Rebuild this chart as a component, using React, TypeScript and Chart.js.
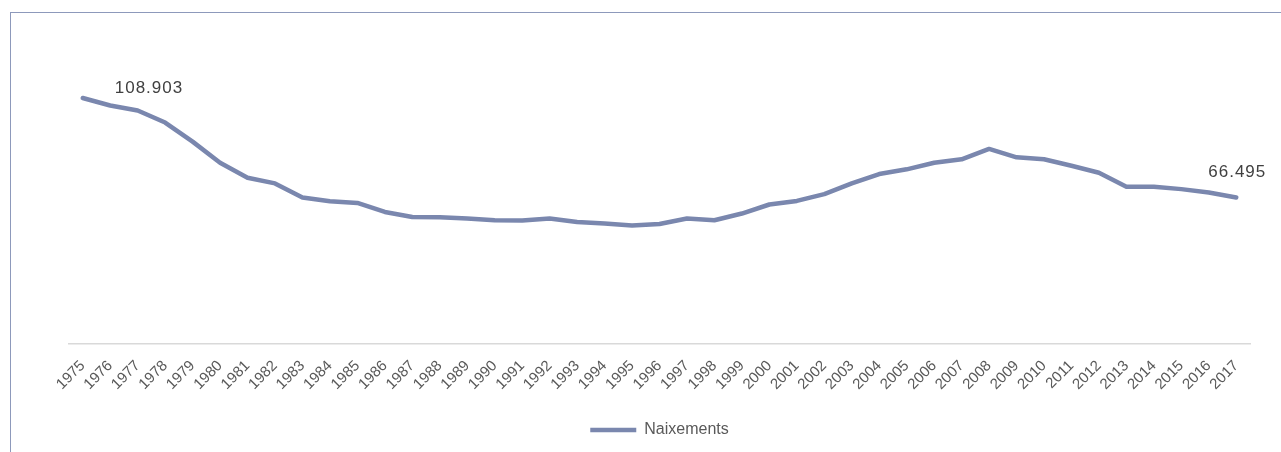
import React, { useEffect, useRef } from "react";
import { Chart, registerables } from "chart.js";

Chart.register(...registerables);

const years: string[] = [
  "1975", "1976", "1977", "1978", "1979", "1980", "1981", "1982", "1983", "1984",
  "1985", "1986", "1987", "1988", "1989", "1990", "1991", "1992", "1993", "1994",
  "1995", "1996", "1997", "1998", "1999", "2000", "2001", "2002", "2003", "2004",
  "2005", "2006", "2007", "2008", "2009", "2010", "2011", "2012", "2013", "2014",
  "2015", "2016", "2017",
];

const naixements: number[] = [
  108903, 105730, 103590, 98450, 90310, 81310, 74890, 72490, 66490, 64900,
  64180, 60320, 58180, 58100, 57490, 56770, 56700, 57490, 56040, 55350,
  54500, 55180, 57490, 56770, 59640, 63490, 65030, 67900, 72490, 76470,
  78490, 81310, 82770, 87180, 83630, 82770, 80030, 77030, 71030, 71030,
  70050, 68630, 66495,
];

const seriesName = "Naixements";
const FONT = "'Liberation Sans', Arial, sans-serif";

function formatCa(v: number): string {
  return String(Math.round(v)).replace(/\B(?=(\d{3})+(?!\d))/g, ".");
}

const endLabels = {
  id: "endLabels",
  afterDatasetsDraw(chart: any) {
    const meta = chart.getDatasetMeta(0);
    const pts = meta.data;
    if (!pts || !pts.length) return;
    const ctx = chart.ctx;
    ctx.save();
    ctx.font = `17px ${FONT}`;
    ctx.fillStyle = "#404040";
    try { (ctx as any).letterSpacing = "1px"; } catch (e) {}
    ctx.textBaseline = "alphabetic";
    const first = pts[0];
    ctx.textAlign = "left";
    ctx.fillText(formatCa(naixements[0]), first.x + 32, first.y - 5);
    const last = pts[pts.length - 1];
    ctx.textAlign = "center";
    ctx.fillText(formatCa(naixements[naixements.length - 1]), last.x + 1, last.y - 20);
    ctx.restore();
  },
};

export default function App() {
  const ref = useRef<HTMLCanvasElement | null>(null);

  useEffect(() => {
    if (!ref.current) return;
    const chart = new Chart(ref.current, {
      type: "line",
      data: {
        labels: years,
        datasets: [
          {
            label: seriesName,
            data: naixements,
            borderColor: "#7a87ae",
            backgroundColor: "#7a87ae",
            borderWidth: 4.5,
            borderCapStyle: "round",
            borderJoinStyle: "round",
            pointRadius: 0,
            pointHoverRadius: 0,
            tension: 0,
            fill: false,
          },
        ],
      },
      options: {
        animation: false,
        responsive: false,
        devicePixelRatio: 1,
        layout: { padding: { left: 69, right: 31, top: 72, bottom: 4 } },
        plugins: {
          legend: {
            display: true,
            position: "bottom",
            labels: {
              usePointStyle: true,
              pointStyle: "line",
              pointStyleWidth: 46,
              padding: 5,
              color: "#595959",
              font: { family: FONT, size: 16 },
            },
          },
          tooltip: { enabled: false },
        },
        scales: {
          x: {
            type: "category",
            offset: true,
            grid: { display: false, drawTicks: false },
            border: { display: true, color: "#d9d9d9", width: 1.5 },
            ticks: {
              autoSkip: false,
              minRotation: 45,
              maxRotation: 45,
              padding: 13,
              color: "#595959",
              font: { family: FONT, size: 15 },
            },
            afterFit: (scale: any) => {
              scale.height = 73;
            },
          },
          y: {
            display: false,
            min: 4000,
            max: 120000,
          },
        },
      },
      plugins: [endLabels],
    });
    return () => chart.destroy();
  }, []);

  return (
    <>
      <div
        style={{
          position: "absolute",
          left: 10,
          top: 12,
          width: 1271,
          height: 440,
          borderTop: "1px solid #8d99bb",
          borderLeft: "1px solid #8d99bb",
          boxSizing: "border-box",
        }}
      />
      <canvas
        ref={ref}
        width={1281}
        height={452}
        style={{ position: "absolute", left: 0, top: 0, width: 1281, height: 452 }}
      />
    </>
  );
}
